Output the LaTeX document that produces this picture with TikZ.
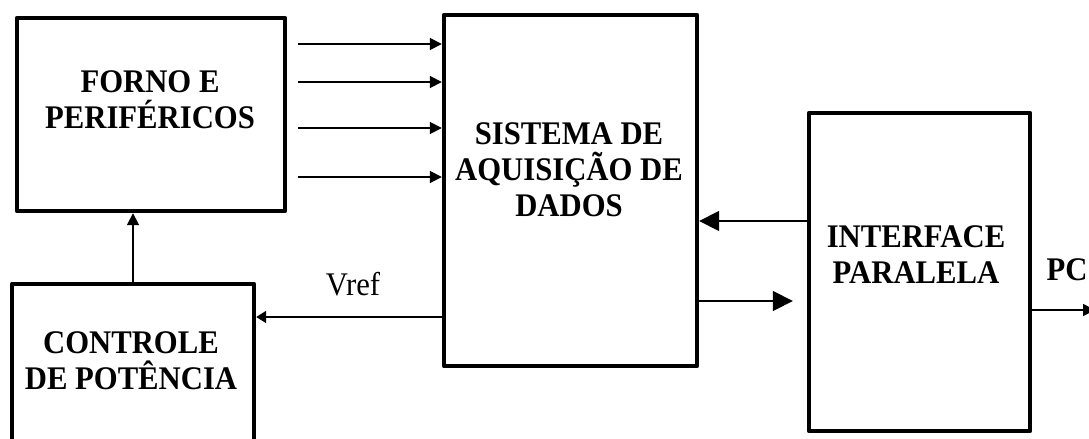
\documentclass[tikz,border=0pt]{standalone}
\usepackage{fontspec}
\setmainfont{Liberation Serif}[FakeStretch=0.93]
\usetikzlibrary{arrows.meta}

\begin{document}
\begin{tikzpicture}[
    x=0.5pt, y=-0.5pt,
    block/.style={draw, line width=2.2pt, line join=round, inner sep=0pt},
    caption/.style={align=center, font=\fontsize{16.5}{18}\selectfont\bfseries},
    sig/.style={draw, line width=0.9pt, -{Triangle[length=6pt, width=6pt]}},
    bus/.style={draw, line width=0.9pt, -{Triangle[length=10pt, width=10pt]}},
  ]
  \clip (0,0) rectangle (1089,439);

  % Blocks
  \node[block, minimum width=134pt, minimum height=96.5pt] (forno) at (151,114.5) {};
  \node[block, minimum width=121pt, minimum height=93pt] (controle) at (133,377) {};
  \node[block, minimum width=126.5pt, minimum height=175.5pt] (sistema) at (570.5,190.5) {};
  \node[block, minimum width=110.5pt, minimum height=159pt] (interface) at (919.5,272) {};

  % Texts inside blocks
  \node[caption] (fornotxt) at (150,100) {FORNO E\\PERIFÉRICOS};
  \node[caption] (controletxt) at (131,361) {CONTROLE\\DE POTÊNCIA};
  \node[caption] (sistematxt) at (569,170) {SISTEMA DE\\AQUISIÇÃO DE\\DADOS};
  \node[caption] (interfacetxt) at (916,255) {INTERFACE\\PARALELA};

  % Other labels
  \node[caption] (pc) at (1067,270) {PC};
  \node[font=\fontsize{16.5}{18}\selectfont] (vref) at (353,284) {Vref};

  % Connectors
  \foreach \y in {44, 82, 128, 177}
    \draw[sig, shorten <=5.5pt] (forno.east |- 0,\y) -- (sistema.west |- 0,\y);
  \draw[sig, -{Triangle[length=5pt, width=6pt]}] (sistema.west |- 0,317) -- (controle.east |- 0,317);
  \draw[sig] (controle.north) -- (controle.north |- forno.south);
  \draw[bus] (interface.west |- 0,221) -- (sistema.east |- 0,221);
  \draw[bus, shorten >=7pt] (sistema.east |- 0,301) -- (interface.west |- 0,301);
  \coordinate (pcend) at (1095,310);
  \draw[sig] (interface.east |- 0,310) -- (pcend);
\end{tikzpicture}
\end{document}
